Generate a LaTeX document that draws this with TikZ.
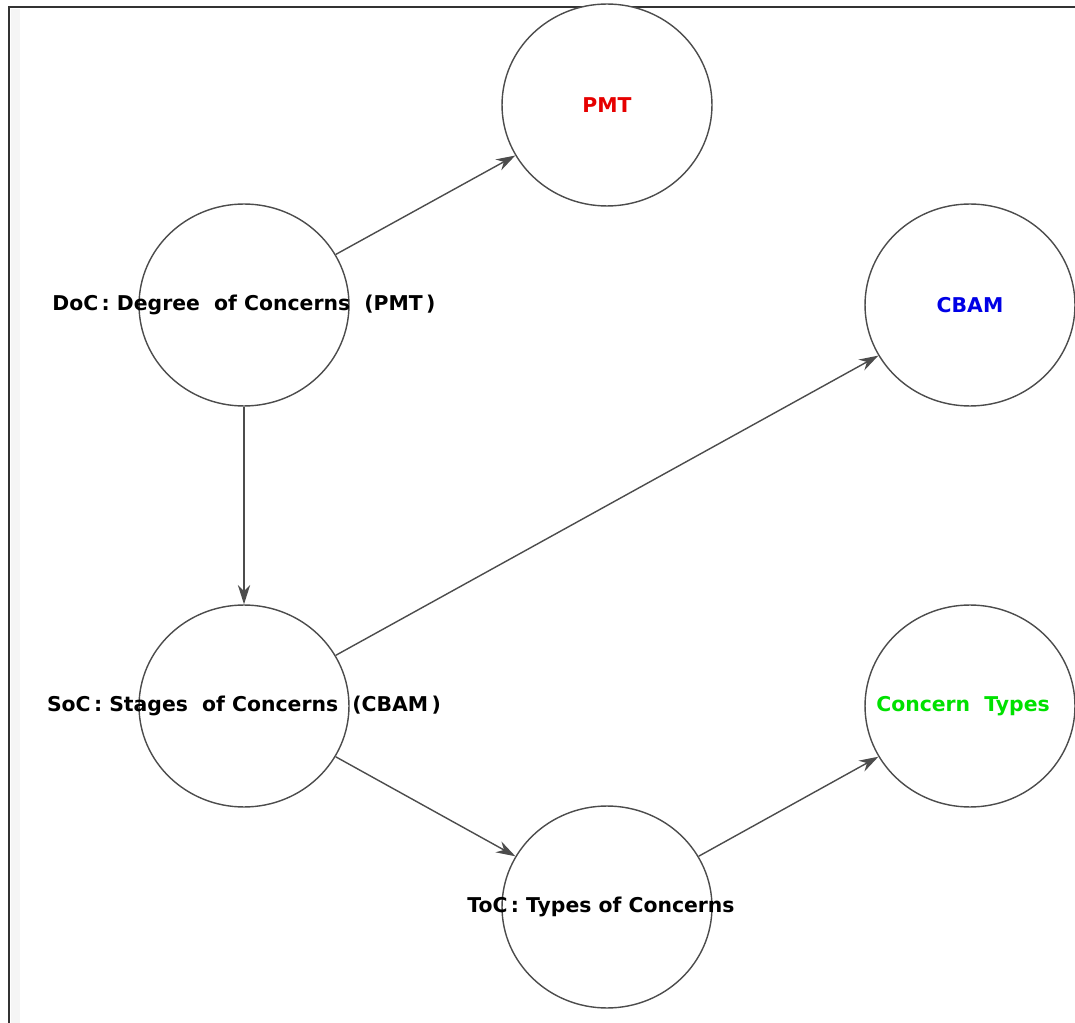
\documentclass[tikz,border=0pt]{standalone}
\usepackage{fontspec}
\setsansfont{DejaVu Sans}
\usetikzlibrary{positioning,arrows.meta,shapes.geometric}
\definecolor{ctred}{RGB}{230,0,0}
\definecolor{ctblue}{RGB}{0,0,230}
\definecolor{ctgreen}{RGB}{0,225,0}
\tikzset{
  concern/.style={ellipse, draw=black!70, fill=white, line width=0.8pt, minimum width=4.2cm, minimum height=4.04cm, inner sep=0pt},
  caption/.style={font={\sffamily\bfseries\fontsize{11.6}{13}\selectfont}, inner sep=0pt},
  influence/.style={-{Stealth[length=11pt,width=7pt]}, draw=black!70, line width=0.8pt}
}
\begin{document}
\begin{tikzpicture}[x=0.02cm, y=-0.02cm]
  \useasboundingbox (0,0) rectangle (1075,1023);
  % window frame
  \fill[black!4] (11,9) rectangle (20,1023);
  \draw[black!80, line width=1.3pt] (9,1023) -- (9,7) -- (1075,7);

  \node [concern, label={[caption, text=ctred]center:PMT}] (pmt) at (607,105) {};
  \node [concern, label={[caption]center:DoC\,: Degree\ \ of Concerns\ \ (PMT\,)}] (doc) at (244,305) {};
  \node [concern, label={[caption, text=ctblue]center:CBAM}] (cbam) at (970,305) {};
  \node [concern, label={[caption]center:SoC\,: Stages\ \ of Concerns\ \ (CBAM\,)}] (soc) at (244,706) {};
  \node [concern, label={[caption, text=ctgreen, xshift=-0.14cm]center:Concern\ \ Types}] (types) at (970,706) {};
  \node [concern, label={[caption, xshift=-0.12cm]center:ToC\,: Types\ of\ Concerns}] (toc) at (607,907) {};

  \draw [influence] (doc) -- (pmt);
  \draw [influence] (doc) -- (soc);
  \draw [influence] (soc) -- (cbam);
  \draw [influence] (soc) -- (toc);
  \draw [influence] (toc) -- (types);
\end{tikzpicture}
\end{document}
